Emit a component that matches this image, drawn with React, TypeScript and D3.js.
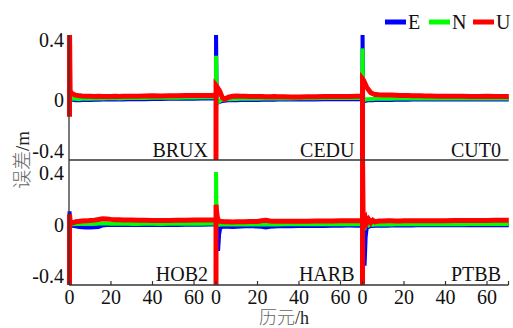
import React from "react";
import * as d3 from "d3";

// Sampling instants (hours since start of each session)
const hours = [0, 0.02, 0.3, 0.7, 1, 1.5, 2, 3, 4, 5, 6, 8, 10, 12, 14, 16, 18, 20, 22, 24, 26, 28, 30, 33, 36, 40, 44, 48, 52, 56, 60, 64, 68, 70.5];

const stations = ["BRUX", "CEDU", "CUT0", "HOB2", "HARB", "PTBB"];
const components = ["E", "N", "U"];
const colors = ["#0000ff", "#00ff00", "#ff0000"];

const xTicks = [0, 20, 40, 60];
const yTicks = [0.4, 0, -0.4];
const yTickLabels = ["0.4", "0", "-0.4"];

// Positioning errors (m)
const bruxE = [-0.06, 0.08, 0.012, 0.008, 0.006, 0.004, 0.003, 0.002, 0.002, 0.002, 0.003, 0.004, 0.004, 0.005, 0.005, 0.006, 0.007, 0.007, 0.007, 0.006, 0.007, 0.008, 0.008, 0.009, 0.009, 0.01, 0.01, 0.011, 0.011, 0.012, 0.012, 0.013, 0.013, 0.013];
const bruxN = [-0.05, 0.04, 0.025, 0.018, 0.015, 0.012, 0.012, 0.011, 0.01, 0.01, 0.011, 0.012, 0.012, 0.013, 0.013, 0.014, 0.015, 0.015, 0.015, 0.014, 0.015, 0.016, 0.016, 0.017, 0.017, 0.018, 0.018, 0.019, 0.019, 0.02, 0.02, 0.021, 0.021, 0.021];
const bruxU = [-0.11, 0.46, 0.065, 0.055, 0.05, 0.045, 0.04, 0.036, 0.033, 0.031, 0.03, 0.029, 0.028, 0.027, 0.028, 0.027, 0.026, 0.027, 0.028, 0.027, 0.028, 0.029, 0.028, 0.029, 0.03, 0.031, 0.03, 0.031, 0.032, 0.033, 0.033, 0.034, 0.034, 0.035];

const ceduE = [-0.1, 0.46, 0.02, -0.01, -0.014, -0.012, -0.008, -0.004, -0.002, 0.0, 0.001, 0.002, 0.002, 0.003, 0.003, 0.004, 0.004, 0.004, 0.005, 0.005, 0.005, 0.005, 0.006, 0.006, 0.006, 0.007, 0.007, 0.007, 0.008, 0.008, 0.008, 0.008, 0.009, 0.009];
const ceduN = [-0.1, 0.3, 0.03, 0.0, -0.012, -0.008, 0.0, 0.004, 0.006, 0.008, 0.009, 0.01, 0.01, 0.011, 0.011, 0.012, 0.012, 0.012, 0.013, 0.013, 0.013, 0.013, 0.014, 0.014, 0.014, 0.015, 0.015, 0.015, 0.016, 0.016, 0.016, 0.016, 0.017, 0.017];
const ceduU = [-0.46, 0.1, 0.095, 0.088, 0.08, 0.07, 0.055, 0.02, 0.008, 0.015, 0.022, 0.028, 0.03, 0.029, 0.028, 0.027, 0.027, 0.026, 0.026, 0.025, 0.025, 0.026, 0.025, 0.025, 0.024, 0.024, 0.025, 0.025, 0.026, 0.026, 0.027, 0.027, 0.028, 0.028];

const cut0E = [-0.1, 0.46, 0.01, -0.006, -0.004, -0.002, 0.0, 0.001, 0.002, 0.002, 0.003, 0.003, 0.004, 0.004, 0.004, 0.005, 0.005, 0.005, 0.005, 0.006, 0.006, 0.006, 0.006, 0.006, 0.006, 0.006, 0.006, 0.006, 0.006, 0.006, 0.006, 0.006, 0.006, 0.006];
const cut0N = [-0.15, 0.35, 0.03, 0.0, 0.004, 0.006, 0.008, 0.009, 0.01, 0.01, 0.011, 0.011, 0.012, 0.012, 0.012, 0.013, 0.013, 0.013, 0.013, 0.014, 0.014, 0.014, 0.014, 0.014, 0.014, 0.014, 0.014, 0.014, 0.014, 0.014, 0.014, 0.014, 0.014, 0.014];
const cut0U = [-0.46, 0.145, 0.14, 0.13, 0.12, 0.105, 0.09, 0.07, 0.052, 0.045, 0.04, 0.038, 0.037, 0.036, 0.036, 0.035, 0.034, 0.034, 0.033, 0.032, 0.031, 0.031, 0.03, 0.03, 0.029, 0.028, 0.028, 0.028, 0.027, 0.027, 0.028, 0.027, 0.027, 0.027];

const hob2E = [-0.2, 0.095, 0.01, 0.0, 0.0, -0.002, -0.004, -0.006, -0.008, -0.01, -0.012, -0.013, -0.013, -0.012, -0.01, 0.0, 0.003, 0.004, 0.004, 0.004, 0.004, 0.004, 0.003, 0.003, 0.004, 0.004, 0.003, 0.004, 0.004, 0.005, 0.005, 0.005, 0.006, 0.006];
const hob2N = [-0.15, 0.05, 0.012, 0.008, 0.008, 0.008, 0.009, 0.01, 0.01, 0.01, 0.011, 0.011, 0.012, 0.012, 0.013, 0.014, 0.013, 0.012, 0.012, 0.011, 0.011, 0.011, 0.01, 0.01, 0.011, 0.011, 0.01, 0.011, 0.011, 0.012, 0.012, 0.012, 0.013, 0.013];
const hob2U = [-0.46, 0.075, 0.03, 0.02, 0.015, 0.018, 0.02, 0.025, 0.026, 0.028, 0.03, 0.031, 0.034, 0.036, 0.04, 0.045, 0.044, 0.041, 0.039, 0.038, 0.037, 0.036, 0.036, 0.035, 0.035, 0.034, 0.034, 0.034, 0.035, 0.035, 0.036, 0.036, 0.037, 0.037];

const harbE = [-0.3, 0.1, -0.05, -0.14, -0.17, -0.06, -0.02, -0.008, -0.007, -0.008, -0.009, -0.01, -0.008, -0.007, -0.006, -0.006, -0.006, -0.007, -0.009, -0.013, -0.009, -0.007, -0.006, -0.005, -0.005, -0.004, -0.004, -0.003, -0.003, -0.002, -0.002, -0.001, -0.001, -0.001];
const harbN = [-0.2, 0.36, 0.03, 0.01, 0.005, 0.005, 0.006, 0.006, 0.006, 0.006, 0.006, 0.007, 0.007, 0.007, 0.007, 0.007, 0.007, 0.007, 0.007, 0.006, 0.007, 0.007, 0.007, 0.008, 0.008, 0.008, 0.008, 0.008, 0.008, 0.008, 0.009, 0.009, 0.009, 0.009];
const harbU = [-0.46, 0.14, 0.09, 0.05, 0.035, 0.03, 0.028, 0.026, 0.025, 0.025, 0.025, 0.024, 0.025, 0.025, 0.025, 0.026, 0.026, 0.027, 0.032, 0.035, 0.03, 0.028, 0.028, 0.028, 0.029, 0.029, 0.029, 0.03, 0.03, 0.03, 0.031, 0.031, 0.031, 0.031];

const ptbbE = [-0.3, 0.05, -0.1, -0.22, -0.27, -0.08, -0.02, -0.008, -0.004, -0.003, -0.002, -0.001, -0.001, -0.001, 0.0, 0.0, 0.0, 0.0, 0.0, 0.0, 0.001, 0.001, 0.001, 0.001, 0.001, 0.001, 0.002, 0.002, 0.002, 0.002, 0.002, 0.002, 0.002, 0.002];
const ptbbN = [-0.2, 0.2, 0.0, 0.01, 0.012, -0.004, 0.012, 0.0, 0.01, 0.004, 0.008, 0.007, 0.007, 0.007, 0.007, 0.008, 0.008, 0.008, 0.008, 0.008, 0.008, 0.008, 0.009, 0.009, 0.009, 0.009, 0.009, 0.009, 0.01, 0.01, 0.01, 0.01, 0.01, 0.01];
const ptbbU = [-0.46, 0.46, 0.04, 0.02, 0.03, 0.045, 0.015, 0.04, 0.02, 0.035, 0.025, 0.03, 0.03, 0.031, 0.031, 0.03, 0.03, 0.031, 0.031, 0.031, 0.032, 0.032, 0.031, 0.032, 0.032, 0.032, 0.033, 0.033, 0.033, 0.034, 0.034, 0.035, 0.035, 0.035];

const seriesByStation = [
  [bruxE, bruxN, bruxU],
  [ceduE, ceduN, ceduU],
  [cut0E, cut0N, cut0U],
  [hob2E, hob2N, hob2U],
  [harbE, harbN, harbU],
  [ptbbE, ptbbN, ptbbU],
];

const W = 513;
const H = 328;
const SPAN = 70.6; // hours allotted to each session column
const serif = "Liberation Serif, Times New Roman, DejaVu Serif, serif";
const cjk = "Noto Sans CJK SC, sans-serif";

const x = d3.scaleLinear().domain([0, 3 * SPAN]).range([69.5, 509]);
const rows = [
  { top: 35, bottom: 160 },
  { top: 160, bottom: 285 },
];
const yScales = rows.map((r) => d3.scaleLinear().domain([-0.4, 0.44]).range([r.bottom, r.top]));
const axisX0 = 69;
const axisX1 = 508.5;
const strokeWidths = [4, 4, 5];

export default function App() {
  return (
    <svg width={W} height={H} style={{ position: "absolute", left: 0, top: 0, background: "#fff" }}>
      <defs>
        {rows.map((r, i) => (
          <clipPath id={`row-clip-${i}`} key={i}>
            <rect x={60} y={r.top} width={455} height={r.bottom - r.top} />
          </clipPath>
        ))}
      </defs>

      {/* error series */}
      {stations.map((name, si) => {
        const row = Math.floor(si / 3);
        const col = si % 3;
        const y = yScales[row];
        const line = d3
          .line<number>()
          .x((_, i) => x(col * SPAN + hours[i]))
          .y((v) => y(v));
        return (
          <g key={name} clipPath={`url(#row-clip-${row})`}>
            {seriesByStation[si].map((vals, ci) => (
              <path
                key={ci}
                d={line(vals) || ""}
                fill="none"
                stroke={colors[ci]}
                strokeWidth={strokeWidths[ci]}
              />
            ))}
          </g>
        );
      })}

      {/* axes */}
      <line x1={axisX0} x2={axisX0} y1={35} y2={285} stroke="#333" strokeWidth={1.3} />
      {rows.map((r, i) => (
        <line key={i} x1={axisX0} x2={axisX1} y1={r.bottom} y2={r.bottom} stroke="#333" strokeWidth={1.3} />
      ))}
      {[0, 1, 2].map((col) =>
        xTicks.map((t) => (
          <g key={`${col}-${t}`}>
            <line x1={x(col * SPAN + t)} x2={x(col * SPAN + t)} y1={285} y2={281} stroke="#333" strokeWidth={1.2} />
            <text x={x(col * SPAN + t)} y={303.5} textAnchor="middle" fontFamily={serif} fontSize={20} fill="#111">
              {t}
            </text>
          </g>
        ))
      )}
      <line x1={axisX1} x2={axisX1} y1={285} y2={281} stroke="#333" strokeWidth={1.2} />

      {rows.map((r, ri) =>
        yTicks.map((v, ti) => {
          const base = yScales[ri](v) + 6.5;
          const yy = Math.max(Math.min(base, r.bottom - 2), ri === 1 ? r.top + 20 : 0);
          return (
            <text key={`${ri}-${ti}`} x={64} y={yy} textAnchor="end" fontFamily={serif} fontSize={20} fill="#111">
              {yTickLabels[ti]}
            </text>
          );
        })
      )}

      {/* station names */}
      {stations.map((name, si) => {
        const row = Math.floor(si / 3);
        const col = si % 3;
        return (
          <text
            key={name}
            x={x((col + 1) * SPAN) - 8}
            y={rows[row].bottom - (row === 0 ? 3.5 : 4)}
            textAnchor="end"
            fontFamily={serif}
            fontSize={20}
            fill="#111"
          >
            {name}
          </text>
        );
      })}

      {/* legend */}
      {components.map((c, i) => {
        const lx = 385 + i * 44;
        return (
          <g key={c}>
            <rect x={lx} y={19.5} width={21} height={5} fill={colors[i]} />
            <text x={lx + 23} y={29} fontFamily={serif} fontSize={20} fill="#111">
              {c}
            </text>
          </g>
        );
      })}

      {/* axis titles */}
      <text transform="translate(29,160) rotate(-90)" textAnchor="middle" fontSize={19} fill="#222">
        <tspan fontFamily={cjk} fontWeight={300} fill="#666">误差</tspan>
        <tspan fontFamily={serif}>/m</tspan>
      </text>
      <text x={284} y={324} textAnchor="middle" fontSize={18} fill="#222">
        <tspan fontFamily={cjk} fontWeight={300} fill="#666">历元</tspan>
        <tspan fontFamily={serif}>/h</tspan>
      </text>
    </svg>
  );
}
